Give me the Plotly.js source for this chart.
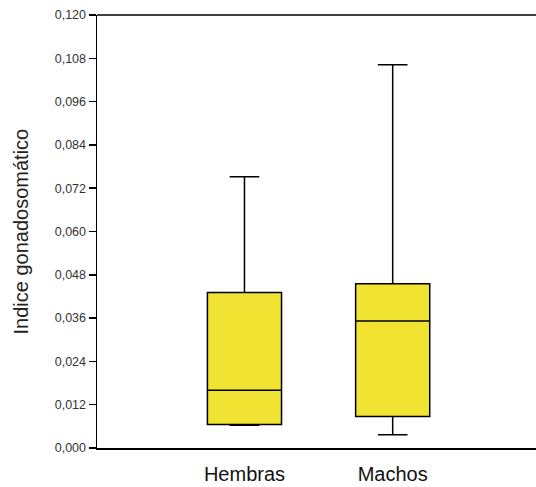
<!DOCTYPE html>
<html>
<head>
<meta charset="utf-8">
<script src="https://cdn.plot.ly/plotly-3.0.1.min.js"></script>
<style>html,body{margin:0;padding:0;overflow:hidden;background:#fff;}#chart{width:536px;height:487px;}</style>
</head>
<body>
<div id="chart"></div>
<script>
const categories = ['Hembras', 'Machos'];
const lowerWhisker = [0.0063, 0.0037];
const q1Values = [0.0065, 0.0087];
const medianValues = [0.0160, 0.0352];
const q3Values = [0.0431, 0.0455];
const upperWhisker = [0.0752, 0.1062];
const yTickVals = [0, 0.012, 0.024, 0.036, 0.048, 0.060, 0.072, 0.084, 0.096, 0.108, 0.120];
const yTickText = ['0,000','0,012','0,024','0,036','0,048','0,060','0,072','0,084','0,096','0,108','0,120'];

const trace = {
  type: 'box',
  x: categories,
  q1: q1Values,
  median: medianValues,
  q3: q3Values,
  lowerfence: lowerWhisker,
  upperfence: upperWhisker,
  boxpoints: false,
  width: 0.5,
  whiskerwidth: 0.4,
  fillcolor: '#f0e332',
  line: {color: '#000', width: 1.5},
  hoverinfo: 'skip'
};

const layout = {
  width: 536, height: 487,
  margin: {l: 97, r: 0, t: 15, b: 39},
  paper_bgcolor: '#fff', plot_bgcolor: '#fff',
  showlegend: false,
  font: {family: 'Liberation Sans, Arial, sans-serif', color: '#222'},
  xaxis: {
    type: 'category',
    range: [-0.995, 1.967],
    showgrid: false, zeroline: false,
    showline: true, linecolor: '#000', linewidth: 1.5,
    ticks: '',
    ticklabelstandoff: 7,
    tickfont: {size: 20, color: '#111'},
    fixedrange: true
  },
  yaxis: {
    range: [0, 0.12],
    tickvals: yTickVals,
    ticktext: yTickText,
    showgrid: false, zeroline: false,
    showline: true, linecolor: '#000', linewidth: 1.5,
    ticks: 'outside', ticklen: 7, tickwidth: 1.5, tickcolor: '#000',
    tickfont: {size: 12.5, color: '#333'},
    fixedrange: true
  },
  shapes: [{
    type: 'line', xref: 'paper', yref: 'paper',
    x0: 0, x1: 1, y0: 1, y1: 1,
    line: {color: '#000', width: 1.5}
  }],
  annotations: [{
    text: 'Indice gonadosomático',
    xref: 'paper', yref: 'paper',
    x: (20 - 97) / 439, y: 0.5,
    xanchor: 'center', yanchor: 'middle',
    textangle: -90, showarrow: false,
    font: {size: 20, color: '#222'}
  }]
};

Plotly.newPlot('chart', [trace], layout, {displayModeBar: false, staticPlot: true});
</script>
</body>
</html>
